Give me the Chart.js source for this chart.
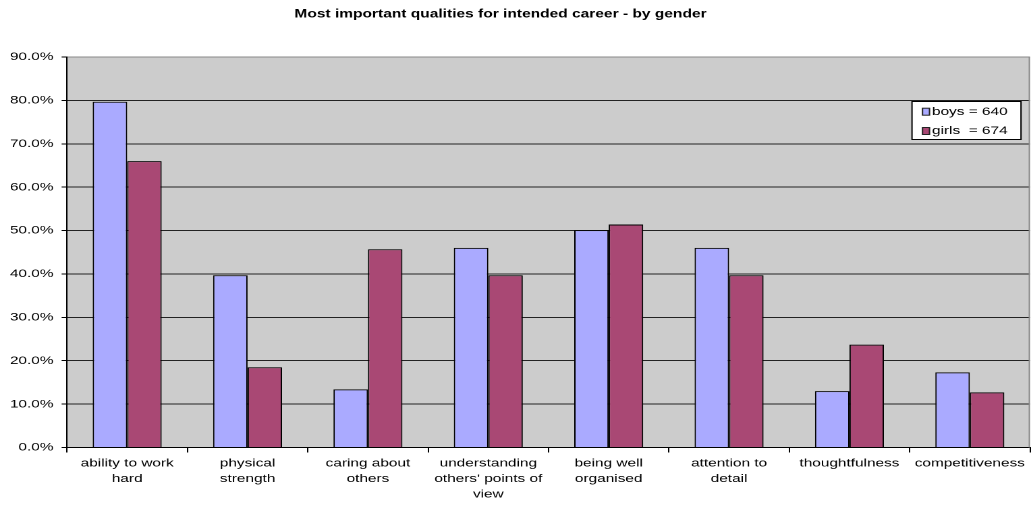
<!DOCTYPE html>
<html>
<head>
<meta charset="utf-8">
<title>Most important qualities for intended career - by gender</title>
<script src="https://cdn.jsdelivr.net/npm/chart.js@4.4.1/dist/chart.umd.min.js"></script>
<style>
  html, body { margin: 0; padding: 0; background: #fff; }
</style>
</head>
<body>
<!-- the source picture is stretched sideways, so the canvas is drawn narrow and widened by css -->
<canvas id="myChart" width="764" height="507" style="display:block;width:1031px;height:507px;"></canvas>
<script>
const SX = 1031 / 764;
const px = v => v / SX;   // picture pixels -> canvas units (horizontal only)

const chartTitle = 'Most important qualities for intended career - by gender';
const categories = [
    ['ability to work', 'hard'],
    ['physical', 'strength'],
    ['caring about', 'others'],
    ['understanding', "others' points of", 'view'],
    ['being well', 'organised'],
    ['attention to', 'detail'],
    'thoughtfulness',
    'competitiveness'
];
const seriesNames = ['boys = 640', 'girls  = 674'];
const boys  = [79.7, 39.7, 13.4, 46.0, 50.1, 46.0, 13.0, 17.3];
const girls = [66.0, 18.5, 45.7, 39.7, 51.4, 39.7, 23.7, 12.7];
const yMax = 90;
const yStep = 10;

const fontFamily = '"Liberation Sans", Arial, sans-serif';
const baseFont = { family: fontFamily, size: 11.4 };

/* gray plot area, frame, title and boxed legend */
const excelLook = {
    id: 'excelLook',
    beforeDraw(chart) {
        const { ctx, chartArea: a } = chart;
        ctx.save();
        ctx.fillStyle = '#CCCCCC';
        ctx.fillRect(a.left, a.top, a.right - a.left, a.bottom - a.top);
        ctx.restore();
    },
    afterDraw(chart) {
        const { ctx, chartArea: a } = chart;
        ctx.save();

        // right side of the plot frame
        ctx.strokeStyle = '#888888';
        ctx.lineWidth = 1;
        ctx.beginPath();
        ctx.moveTo(a.right - 0.5, a.top);
        ctx.lineTo(a.right - 0.5, a.bottom);
        ctx.stroke();

        // title
        ctx.fillStyle = '#000';
        ctx.font = 'bold 11.5px ' + fontFamily;
        ctx.textAlign = 'center';
        ctx.textBaseline = 'middle';
        ctx.fillText(chartTitle, px(500.5), 14.5);

        // legend
        const lx = px(912), lw = px(1021) - px(912);
        const ly = 101, lh = 38;
        ctx.fillStyle = '#fff';
        ctx.fillRect(lx, ly, lw, lh);
        ctx.strokeStyle = '#000';
        ctx.strokeRect(lx, ly + 0.5, lw, lh);
        ctx.font = '11.4px ' + fontFamily;
        ctx.textAlign = 'left';
        chart.data.datasets.forEach((ds, i) => {
            const cy = 111.7 + i * 19.3;
            ctx.fillStyle = ds.backgroundColor;
            ctx.fillRect(px(922.5), cy - 3.5, px(7), 7);
            ctx.strokeStyle = '#222';
            ctx.strokeRect(px(922.5), cy - 3.5, px(7), 7);
            ctx.fillStyle = '#000';
            ctx.fillText(ds.label, px(932), cy);
        });
        ctx.restore();
    }
};

new Chart(document.getElementById('myChart'), {
    type: 'bar',
    data: {
        labels: categories,
        datasets: [{
            label: seriesNames[0],
            data: boys,
            backgroundColor: '#AAAAFF',
            borderColor: '#000',
            borderWidth: 1
        }, {
            label: seriesNames[1],
            data: girls,
            backgroundColor: '#A94874',
            borderColor: '#000',
            borderWidth: 1
        }]
    },
    options: {
        responsive: false,
        animation: false,
        devicePixelRatio: 2,
        categoryPercentage: 0.573,
        barPercentage: 1,
        layout: {
            padding: { top: 57, left: 0, bottom: 0, right: 764 - px(1030) }
        },
        plugins: {
            legend: { display: false },
            title: { display: false },
            tooltip: { enabled: false }
        },
        scales: {
            x: {
                grid: {
                    offset: true,
                    drawOnChartArea: false,
                    drawTicks: true,
                    tickLength: 5,
                    tickColor: '#000'
                },
                border: { display: true, color: '#000', width: 1 },
                ticks: {
                    color: '#000',
                    font: { family: fontFamily, size: 11.4, lineHeight: 1.36 },
                    padding: 3,
                    autoSkip: false,
                    maxRotation: 0,
                    minRotation: 0
                },
                afterFit(scale) { scale.height = 507 - 447.5; }
            },
            y: {
                min: 0,
                max: yMax,
                ticks: {
                    stepSize: yStep,
                    color: '#000',
                    font: baseFont,
                    padding: 6,
                    callback: v => v.toFixed(1) + '%'
                },
                grid: {
                    color: c => (c.tick && c.tick.value === yMax) ? '#888888' : '#222222',
                    tickColor: '#000',
                    tickLength: 4,
                    lineWidth: 1
                },
                border: { display: true, color: '#000', width: 1 },
                afterFit(scale) { scale.width = px(67); }
            }
        }
    },
    plugins: [excelLook]
});
</script>
</body>
</html>
